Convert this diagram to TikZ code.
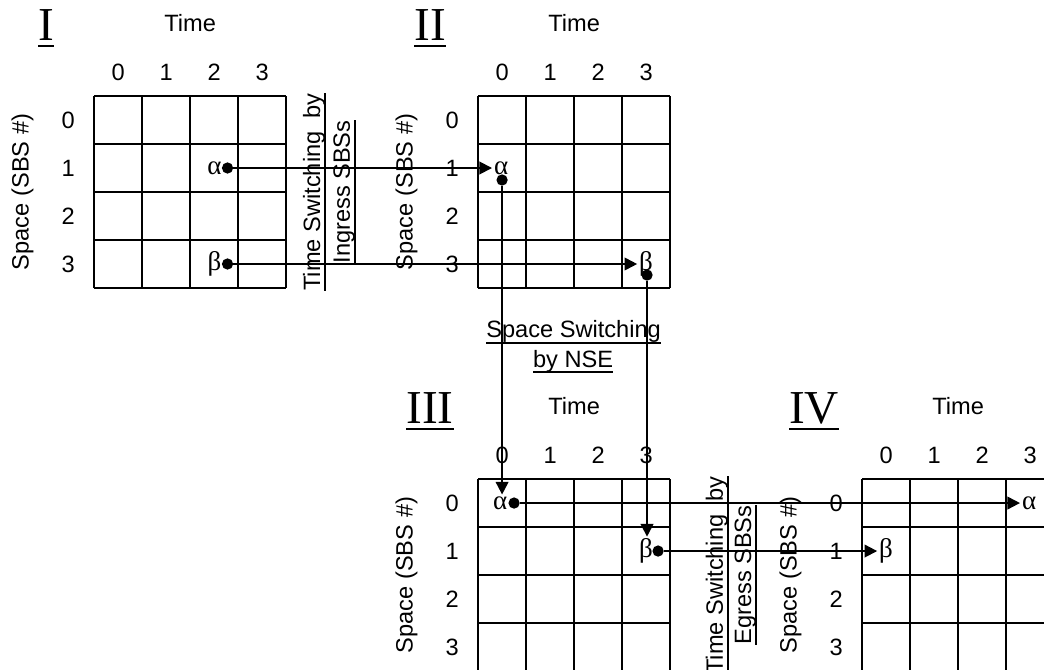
\documentclass[tikz,border=0pt]{standalone}
\usepackage{fontspec}
\setmainfont{Liberation Sans}
\newfontfamily\romanfont{Liberation Serif}
\usetikzlibrary{arrows.meta}
\newcommand\ulbox[1]{\setbox0=\hbox{#1}\rlap{\rule[-3.4pt]{\wd0}{1.1pt}}\box0}
\newcommand\ulnum[1]{\setbox0=\hbox{#1}\rlap{\rule[-3.9pt]{\wd0}{1.6pt}}\box0}

\begin{document}
\begin{tikzpicture}[font=\fontsize{14}{16}\selectfont,
  cellgrid/.style={line width=1.15pt},
  lbl/.style={inner sep=0pt},
  romnum/.style={inner sep=0pt,anchor=base,font=\romanfont\fontsize{28}{30}\selectfont},
  sidelbl/.style={inner sep=0pt,anchor=base,rotate=90},
  greek/.style={inner sep=1pt,font=\romanfont\fontsize{16}{18}\selectfont},
  dot/.style={circle,fill,inner sep=0pt,minimum size=0.235cm},
  flow/.style={line width=1.1pt,-{Triangle[length=7.5pt,width=7.5pt]}}]
\clip (0,0) rectangle (21.75,-13.958);
% the four time/space matrices
\foreach \g/\lx/\ty in {I/1.96/-2,II/9.96/-2,III/9.96/-9.98,IV/17.96/-9.98}{
\begin{scope}[shift={(\lx,\ty)}]
\draw[cellgrid] (0,0) grid (4,-4);
\node[romnum] (\g-num) at (-1,1.15) {\ulnum{\g}};
\node[lbl] (\g-time) at (2,1.52) {Time};
\node[lbl,rotate=90] (\g-space) at (-1.49,-2) {Space (SBS \#)};
\foreach \k in {0,...,3}{
\node[lbl] (\g-c\k) at (\k+0.5,0.49) {\k};
\node[lbl] (\g-r\k) at (-0.54,-\k-0.5) {\k};
}
\end{scope}
}
% switching stages
\node[sidelbl] (ing1) at (6.667,-4) {\ulbox{Time Switching\ \ by}};
\node[sidelbl] (ing2) at (7.29,-4) {\ulbox{Ingress SBSs}};
\node[sidelbl] (egr1) at (15.06,-11.98) {\ulbox{Time Switching\ \ by}};
\node[sidelbl] (egr2) at (15.65,-11.98) {\ulbox{Egress SBSs}};
\node[lbl,anchor=base] (nse1) at (11.95,-7.04) {\ulbox{Space Switching}};
\node[lbl,anchor=base] (nse2) at (11.94,-7.65) {\ulbox{by NSE}};
% slots alpha and beta
\node[greek] (a1) at (4.47,-3.5) {α};
\node[dot] (a1d) at (4.74,-3.5) {};
\node[greek] (b1) at (4.47,-5.5) {β};
\node[dot] (b1d) at (4.74,-5.5) {};
\node[greek] (a2) at (10.44,-3.5) {α};
\node[dot] (a2d) at (10.46,-3.75) {};
\node[greek] (b2) at (13.46,-5.5) {β};
\node[dot] (b2d) at (13.48,-5.73) {};
\node[greek] (a3) at (10.42,-10.48) {α};
\node[dot] (a3d) at (10.71,-10.48) {};
\node[greek] (b3) at (13.46,-11.48) {β};
\node[dot] (b3d) at (13.71,-11.48) {};
\node[greek] (a4) at (21.44,-10.48) {α};
\node[greek] (b4) at (18.46,-11.48) {β};
\draw[flow] (a1d) -- (a2.west);
\draw[flow] (b1d) -- (b2.west);
\draw[flow] (a2d) -- (a2d |- a3.north);
\draw[flow] (b2d) -- (b2d |- b3.north);
\draw[flow] (a3d) -- (a4.west);
\draw[flow] (b3d) -- (b4.west);
\end{tikzpicture}
\end{document}
